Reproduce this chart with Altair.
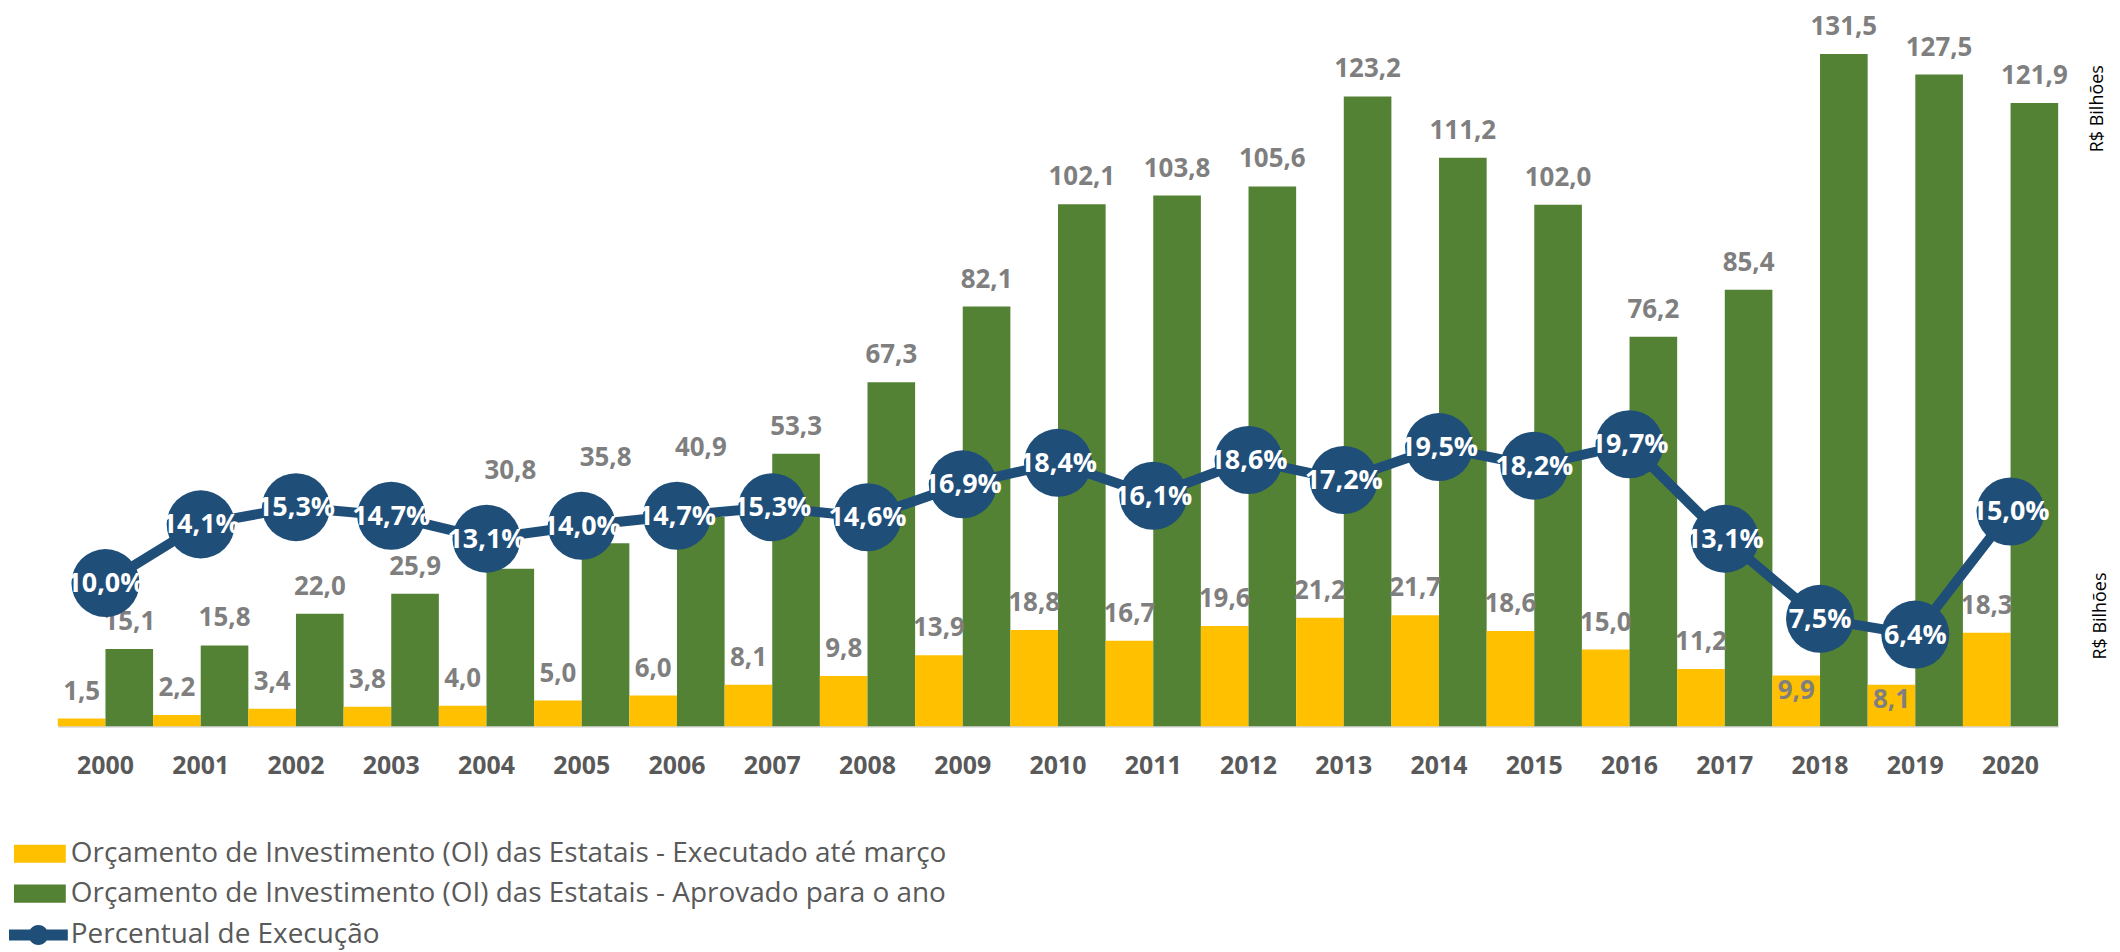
import altair as alt
import pandas as pd

# ---------------- data ----------------
anos = [2000, 2001, 2002, 2003, 2004, 2005, 2006, 2007, 2008, 2009, 2010,
        2011, 2012, 2013, 2014, 2015, 2016, 2017, 2018, 2019, 2020]
executado = [1.5, 2.2, 3.4, 3.8, 4.0, 5.0, 6.0, 8.1, 9.8, 13.9, 18.8,
             16.7, 19.6, 21.2, 21.7, 18.6, 15.0, 11.2, 9.9, 8.1, 18.3]
aprovado = [15.1, 15.8, 22.0, 25.9, 30.8, 35.8, 40.9, 53.3, 67.3, 82.1, 102.1,
            103.8, 105.6, 123.2, 111.2, 102.0, 76.2, 85.4, 131.5, 127.5, 121.9]
percentual = [10.0, 14.1, 15.3, 14.7, 13.1, 14.0, 14.7, 15.3, 14.6, 16.9, 18.4,
              16.1, 18.6, 17.2, 19.5, 18.2, 19.7, 13.1, 7.5, 6.4, 15.0]

SERIE_EXEC = "Orçamento de Investimento (OI) das Estatais - Executado até março"
SERIE_APROV = "Orçamento de Investimento (OI) das Estatais - Aprovado para o ano"
SERIE_PCT = "Percentual de Execução"

# label placement categories (as in the original figure)
ROTULO_ACIMA_MARCADOR = [2004, 2005, 2006]   # approved labels lifted above the markers
ROTULO_DENTRO_BARRA = [2018, 2019]           # executed labels placed inside the bar


def br(v):
    return f"{v:.1f}".replace(".", ",")


linhas = []
for a, e, ap, p in zip(anos, executado, aprovado, percentual):
    linhas.append({"ano": a, "serie": SERIE_EXEC, "valor": e, "rotulo": br(e), "pct": p,
                   "pos": "dentro" if a in ROTULO_DENTRO_BARRA else "acima"})
    linhas.append({"ano": a, "serie": SERIE_APROV, "valor": ap, "rotulo": br(ap), "pct": p,
                   "pos": "marcador" if a in ROTULO_ACIMA_MARCADOR else "acima"})
barras = pd.DataFrame(linhas)
linha = pd.DataFrame({"ano": anos, "pct": percentual,
                      "rotulo": [br(p) + "%" for p in percentual],
                      "serie": [SERIE_PCT] * len(anos)})

# ---------------- styling ----------------
W, H = 2007, 718
FONT = "Open Sans"
AMARELO, VERDE, AZUL = "#FFC000", "#548235", "#1F4E79"
CINZA_ROT, CINZA_EIXO = "#7F7F7F", "#595959"
ORDEM = [SERIE_EXEC, SERIE_APROV]

RECT_PATH = "M-1,-0.35L1,-0.35L1,0.35L-1,0.35Z"
LINE_PATH = ("M-1,-0.19L1,-0.19L1,0.19L-1,0.19Z "
             "M0.34,0A0.34,0.34 0 1,1 -0.34,0A0.34,0.34 0 1,1 0.34,0Z")

x = alt.X("ano:O", title=None,
          scale=alt.Scale(paddingInner=0, paddingOuter=0),
          axis=alt.Axis(labelAngle=0, ticks=False, tickSize=0, labelPadding=39,
                        labelBaseline="middle", labelFont=FONT, labelFontSize=25,
                        labelFontWeight="bold", labelColor=CINZA_EIXO,
                        domainColor="#D9D9D9", domainWidth=2, grid=False))
xoff = alt.XOffset("serie:N", sort=ORDEM,
                   scale=alt.Scale(domain=ORDEM, paddingInner=0, paddingOuter=0))

esc_val = alt.Scale(domain=[0, 140], nice=False, zero=True)
esc_pct = alt.Scale(domain=[0, 50], nice=False, zero=True)

eixo_val = alt.Axis(orient="right", labels=False, ticks=False, domain=False, grid=False,
                    title="R$ Bilhões", titleAngle=270, titleX=39, titleY=98,
                    titleAlign="center", titleBaseline="middle", titleFont=FONT,
                    titleFontSize=18, titleFontWeight="normal", titleColor="#000000")
eixo_pct = alt.Axis(orient="left", labels=False, ticks=False, domain=False, grid=False,
                    title="R$ Bilhões", titleAngle=270, titleX=W + 42, titleY=607,
                    titleAlign="center", titleBaseline="middle", titleFont=FONT,
                    titleFontSize=18, titleFontWeight="normal", titleColor="#000000")

leg_barras = alt.Legend(title=None, orient="none", legendX=-44, legendY=820,
                        direction="vertical", symbolType=RECT_PATH, symbolSize=2704,
                        symbolStrokeWidth=0, symbolOffset=0, labelFont=FONT,
                        labelFontSize=28, labelColor=CINZA_EIXO, labelOffset=5,
                        labelLimit=2000, rowPadding=-8.5, padding=0, offset=0)
leg_pct = alt.Legend(title=None, orient="none", legendX=-49, legendY=898,
                     direction="vertical", symbolType=LINE_PATH, symbolSize=3481,
                     symbolStrokeWidth=0, symbolOffset=0, labelFont=FONT,
                     labelFontSize=28, labelColor=CINZA_EIXO, labelOffset=3,
                     labelLimit=2000, padding=0, offset=0)

base_b = alt.Chart(barras)
base_l = alt.Chart(linha)

bars = base_b.mark_bar().encode(
    x=x, xOffset=xoff,
    y=alt.Y("valor:Q", scale=esc_val, axis=eixo_val),
    color=alt.Color("serie:N", sort=ORDEM,
                    scale=alt.Scale(domain=ORDEM, range=[AMARELO, VERDE]),
                    legend=leg_barras),
)

txt_style = dict(font=FONT, fontSize=26, fontWeight="bold", color=CINZA_ROT,
                 baseline="alphabetic", align="center")

t_acima = base_b.transform_filter("datum.pos == 'acima'").mark_text(dy=-19, **txt_style).encode(
    x=x, xOffset=xoff, y=alt.Y("valor:Q", scale=esc_val, axis=None), text="rotulo:N")
t_dentro = base_b.transform_filter("datum.pos == 'dentro'").mark_text(dy=23, **txt_style).encode(
    x=x, xOffset=xoff, y=alt.Y("valor:Q", scale=esc_val, axis=None), text="rotulo:N")
t_marc = base_b.transform_filter("datum.pos == 'marcador'").mark_text(dy=-60, **txt_style).encode(
    x=x, xOffset=xoff, y=alt.Y("pct:Q", scale=esc_pct, axis=None), text="rotulo:N")

line = base_l.mark_line(color=AZUL, strokeWidth=10).encode(
    x=x, y=alt.Y("pct:Q", scale=esc_pct, axis=eixo_pct))
circles = base_l.mark_circle(size=4657, opacity=1).encode(
    x=x, y=alt.Y("pct:Q", scale=esc_pct, axis=None),
    fill=alt.Fill("serie:N", scale=alt.Scale(domain=[SERIE_PCT], range=[AZUL]),
                  legend=leg_pct))
t_pct = base_l.mark_text(font=FONT, fontSize=27, fontWeight="bold", color="#FFFFFF",
                         baseline="middle", align="center", dy=1).encode(
    x=x, y=alt.Y("pct:Q", scale=esc_pct, axis=None), text="rotulo:N")

chart = alt.layer(bars, t_acima, t_dentro, line, circles, t_pct, t_marc).resolve_scale(
    y="independent"
).properties(
    width=W, height=H,
    padding={"left": 50, "top": 1, "right": 54, "bottom": 225},
    autosize=alt.AutoSizeParams(type="none"),
    background="#FFFFFF",
).configure_view(stroke=None)

chart.save("out.html", embed_options={"renderer": "svg", "actions": False})
